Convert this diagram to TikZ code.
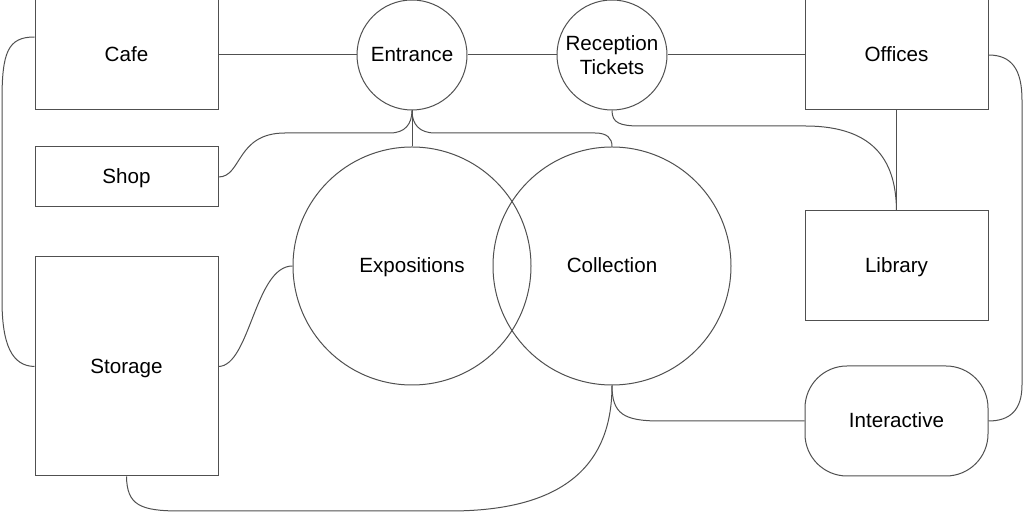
\documentclass[tikz,border=0pt]{standalone}
\usepackage{fontspec}
\setmainfont{Liberation Sans}
\usepackage{xcolor}
\usepackage{tikz}
\usetikzlibrary{calc}
\definecolor{wire}{HTML}{505050}
\tikzset{
    link/.style={draw=wire, line width=0.5pt},
    oneline/.style={text height=8.5pt, text depth=1.5pt},
    room/.style={draw=wire, line width=0.5pt, rectangle, inner sep=0pt,
        minimum width=91.5pt, minimum height=55pt, oneline},
    hall/.style={draw=wire, line width=0.5pt, circle, inner sep=0pt,
        minimum size=55pt, align=center},
    bighall/.style={hall, minimum size=119pt, oneline},
    pod/.style={room, rounded corners=21pt},
}
\begin{document}
\begin{tikzpicture}[x=0.5pt, y=-0.5pt, font=\fontsize{10.3}{12}\selectfont]
        \useasboundingbox (0,0) rectangle (1024,512);
        \foreach \name/\x/\y in {Cafe/126.5/55, Offices/896.5/55, Library/896.5/266}
            \node[room] (\name) at (\x,\y) {\name};
        \node[room, minimum height=30pt] (Shop) at (126.5,177) {Shop};
        \node[room, minimum height=109.5pt] (Storage) at (126.5,366.5) {Storage};
        \node[pod] (Interactive) at (896.5,421) {Interactive};
        \node[hall, oneline] (Entrance) at (412,55) {Entrance};
        \node[hall] (Reception) at (612,55) {Reception\\Tickets};
        \node[bighall] (Expositions) at (412,266) {Expositions};
        \node[bighall] (Collection) at (612,266) {Collection};
        \foreach \a/\b in {Cafe.east/Entrance.west, Entrance.east/Reception.west,
            Reception.east/Offices.west, Offices.south/Library.north,
            Entrance.south/Expositions.north}
            \draw[link] (\a) -- (\b);
        \draw[link] ([yshift=9pt]Cafe.west) .. controls (8,37) and (2,52) .. (2,100)
            -- (2,300) .. controls (2,345) and (12,366) .. (Storage.west);
        \draw[link] (Shop.east) .. controls (242,177) and (236,133) .. (285,133)
            -- (390,133) .. controls (405,133) and (412,124) .. (Entrance.south);
        \draw[link] (Entrance.south) .. controls (412,124) and (419,133) .. (435,133)
            -- (595,133) .. controls (607,133) and (612,138) .. (Collection.north);
        \draw[link] (Reception.south) .. controls (612,123) and (620,126) .. (640,126)
            -- (805,126) .. controls (878,126) and (896,165) .. (Library.north);
        \draw[link] (Offices.east) .. controls (1012,55) and (1022,70) .. (1022,100)
            -- (1022,385) .. controls (1022,410) and (1010,421) .. (Interactive.east);
        \draw[link] (Collection.south) .. controls (612,414) and (624,421) .. (660,421)
            -- (Interactive.west);
        \draw[link] (Storage.south) .. controls (127,505) and (140,511) .. (180,511)
            -- (450,511) .. controls (570,511) and (612,460) .. (Collection.south);
        \draw[link] (Storage.east) .. controls (250,366) and (255,266) .. (Expositions.west);
    \end{tikzpicture}
\end{document}
